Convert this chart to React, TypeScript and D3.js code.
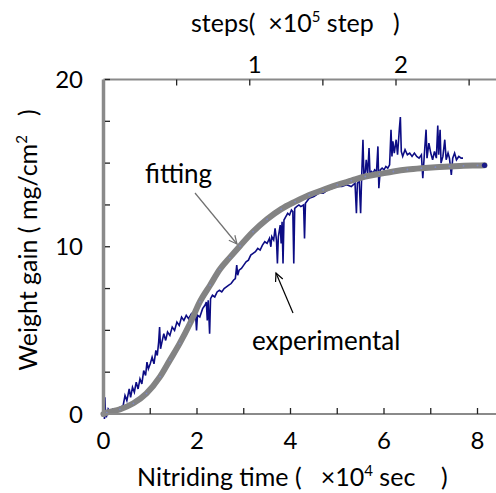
import React from 'react';
import * as d3 from 'd3';

// Axis ticks / labels
const timeTicks = [1, 2, 3, 4, 5, 6, 7, 8];
const timeLabels = [0, 2, 4, 6, 8];
const stepTicks = [0.5, 1, 1.5, 2, 2.5];
const stepLabels = [1, 2];
const weightTicks = [2.5, 5, 7.5, 10, 12.5, 15, 17.5, 20];
const weightLabels = [0, 10, 20];

// Experimental series: time (x10^4 sec) and weight gain (mg/cm2)
const expT = [
  0.00, 0.01, 0.02, 0.03, 0.04, 0.06, 0.10, 0.15, 0.20, 0.28, 0.35, 0.42, 0.46, 0.50, 0.55, 0.58,
  0.62, 0.66, 0.70, 0.74, 0.78, 0.82, 0.86, 0.90, 0.93, 0.96, 1.00, 1.04, 1.08, 1.12, 1.15, 1.18,
  1.20, 1.22, 1.25, 1.29, 1.33, 1.37, 1.42, 1.47, 1.52, 1.57, 1.62, 1.67, 1.72, 1.77, 1.82, 1.88,
  1.93, 1.97, 1.99, 2.01, 2.06, 2.12, 2.17, 2.20, 2.22, 2.24, 2.27, 2.29, 2.33, 2.38, 2.43, 2.48,
  2.53, 2.58, 2.63, 2.68, 2.73, 2.78, 2.82, 2.85, 2.87, 2.90, 2.95, 3.00, 3.05, 3.10, 3.15, 3.20,
  3.25, 3.30, 3.35, 3.40, 3.45, 3.50, 3.55, 3.58, 3.60, 3.64, 3.67, 3.70, 3.72, 3.74, 3.78, 3.80,
  3.82, 3.84, 3.86, 3.90, 3.94, 3.98, 4.02, 4.05, 4.07, 4.09, 4.13, 4.18, 4.22, 4.28, 4.30, 4.32,
  4.40, 4.50, 4.60, 4.70, 4.80, 4.90, 5.00, 5.10, 5.20, 5.30, 5.38, 5.41, 5.43, 5.47, 5.50, 5.52,
  5.55, 5.57, 5.60, 5.62, 5.65, 5.68, 5.70, 5.73, 5.77, 5.80, 5.84, 5.87, 5.89, 5.92, 5.96, 6.00,
  6.04, 6.08, 6.12, 6.15, 6.17, 6.19, 6.22, 6.26, 6.29, 6.33, 6.35, 6.37, 6.40, 6.45, 6.50, 6.55,
  6.60, 6.65, 6.70, 6.75, 6.80, 6.83, 6.86, 6.90, 6.92, 6.96, 7.00, 7.04, 7.08, 7.12, 7.15, 7.17,
  7.20, 7.22, 7.26, 7.30, 7.33, 7.37, 7.40, 7.44, 7.47, 7.51, 7.55, 7.60, 7.65, 7.69,
];
const expW = [
  0.0, 1.6, -0.3, 1.0, 0.2, -0.2, 0.3, 0.1, 0.3, 0.2, 0.4, 0.5, 1.1, 0.8, 1.5, 1.0,
  1.6, 1.3, 1.9, 1.5, 2.1, 1.8, 2.6, 2.3, 3.1, 2.7, 3.0, 3.4, 3.0, 3.8, 3.5, 4.3,
  5.2, 3.9, 4.3, 4.8, 4.4, 4.9, 4.7, 5.2, 5.0, 5.5, 5.3, 5.8, 5.6, 5.9, 5.7, 6.0,
  5.8, 5.9, 5.0, 5.9, 5.8, 6.3, 6.5, 6.7, 5.6, 6.8, 4.8, 6.9, 7.1, 7.0, 7.3, 7.4,
  7.3, 7.5, 7.6, 7.7, 7.8, 8.0, 8.1, 8.9, 8.3, 8.6, 8.7, 8.9, 9.1, 9.2, 9.5, 9.6,
  9.7, 9.9, 9.8, 10.1, 10.3, 10.2, 10.5, 10.0, 10.6, 10.4, 11.1, 10.4, 9.0, 10.6, 11.3, 10.2,
  11.5, 9.0, 11.6, 11.8, 12.0, 11.9, 12.2, 12.1, 9.0, 12.3, 12.4, 12.5, 12.4, 12.5, 10.5, 12.6,
  12.9, 13.0, 13.2, 13.2, 13.4, 13.5, 13.6, 13.6, 13.7, 13.6, 13.8, 12.0, 13.8, 13.9, 12.0, 14.0,
  16.4, 14.2, 14.5, 15.2, 14.3, 15.9, 14.4, 14.5, 14.4, 14.6, 14.5, 16.0, 13.5, 14.6, 14.7, 14.6,
  14.8, 14.7, 14.9, 17.0, 15.4, 16.3, 15.6, 16.4, 15.5, 17.1, 17.75, 15.7, 15.4, 15.8, 15.5, 15.6,
  15.4, 15.6, 15.4, 15.3, 15.5, 14.1, 15.4, 17.0, 15.3, 16.2, 15.6, 15.2, 15.7, 15.3, 17.25, 15.5,
  17.0, 15.0, 15.4, 16.4, 15.2, 15.6, 15.3, 14.3, 15.3, 15.6, 15.2, 15.4, 15.3, 15.3,
];

// Fitting curve
const fitT = [
  0, 0.07, 0.35, 0.64, 0.92, 1.21, 1.42, 1.63, 1.85, 2.06, 2.28, 2.49, 2.70, 2.92, 3.20, 3.50,
  3.80, 4.10, 4.40, 4.70, 5.00, 5.30, 5.60, 5.90, 6.20, 6.50, 6.80, 7.10, 7.40, 7.70, 8.00, 8.15,
];
const fitW = [
  0, 0.08, 0.28, 0.64, 1.23, 2.23, 3.22, 4.22, 5.41, 6.70, 7.70, 8.65, 9.35, 10.05, 10.9, 11.65,
  12.25, 12.7, 13.1, 13.4, 13.7, 13.95, 14.2, 14.35, 14.5, 14.62, 14.7, 14.76, 14.8, 14.84, 14.86, 14.87,
];

const FONT = "Lato, 'Open Sans', sans-serif";

function arrowHead(x1: number, y1: number, x2: number, y2: number, size: number) {
  const a = Math.atan2(y2 - y1, x2 - x1);
  const s = 0.45;
  const p1 = [x2 - size * Math.cos(a - s), y2 - size * Math.sin(a - s)];
  const p2 = [x2 - size * Math.cos(a + s), y2 - size * Math.sin(a + s)];
  return `M${p1[0]},${p1[1]}L${x2},${y2}L${p2[0]},${p2[1]}`;
}

export default function App() {
  const W = 496;
  const H = 493;
  const x = d3.scaleLinear().domain([0, 8]).range([103.5, 477.5]);
  const xs = d3.scaleLinear().domain([0, 2]).range([103.5, 396]);
  const y = d3.scaleLinear().domain([0, 20]).range([414, 79.5]);

  const expData = expT.map((t, i) => [t, expW[i]] as [number, number]);
  const fitData = fitT.map((t, i) => [t, fitW[i]] as [number, number]);

  const expLine = d3.line<[number, number]>().x(d => x(d[0])).y(d => y(d[1]));
  const fitLine = d3
    .line<[number, number]>()
    .x(d => x(d[0]))
    .y(d => y(d[1]))
    .curve(d3.curveMonotoneX);

  const last = fitData[fitData.length - 1];

  const fa = { x1: 195, y1: 193, x2: 237, y2: 244 };
  const ea = { x1: 293, y1: 313, x2: 276, y2: 273 };

  return (
    <svg
      width={W}
      height={H}
      style={{ position: 'absolute', left: 0, top: 0, background: '#fff' }}
      fontFamily={FONT}
    >
      <rect x={0} y={0} width={W} height={H} fill="#fff" />

      {/* data */}
      <path d={expLine(expData) || ''} fill="none" stroke="#0c0c84" strokeWidth={1.6} strokeLinejoin="miter" />
      <path d={fitLine(fitData) || ''} fill="none" stroke="#838383" strokeWidth={6} strokeLinecap="round" />
      {fitData.map((d, i) => (
        <circle key={i} cx={x(d[0])} cy={y(d[1])} r={0.9} fill="#7d88c4" />
      ))}
      <circle cx={x(last[0])} cy={y(last[1])} r={2.6} fill="#1a1a8a" />

      {/* axes */}
      <line x1={103.5} x2={103.5} y1={y(20)} y2={417} stroke="#8a8a8a" strokeWidth={3.5} />
      <line x1={103.5} x2={W} y1={y(20)} y2={y(20)} stroke="#8a8a8a" strokeWidth={2} />
      <line x1={102} x2={W} y1={y(0)} y2={y(0)} stroke="#8a8a8a" strokeWidth={2} />

      {timeTicks.map(t => (
        <line key={'bt' + t} x1={x(t)} x2={x(t)} y1={y(0) - 6} y2={y(0)} stroke="#222" strokeWidth={1.3} />
      ))}
      {stepTicks.map(t => (
        <line key={'tt' + t} x1={xs(t)} x2={xs(t)} y1={y(20)} y2={y(20) + 6} stroke="#222" strokeWidth={1.3} />
      ))}
      {weightTicks.map(v => (
        <line key={'lt' + v} x1={105} x2={110} y1={y(v)} y2={y(v)} stroke="#222" strokeWidth={1.3} />
      ))}

      {/* tick labels */}
      {timeLabels.map(t => (
        <text key={'bl' + t} x={x(t)} y={449} textAnchor="middle" fontSize={24} fill="#000">
          {t}
        </text>
      ))}
      {stepLabels.map(t => (
        <text key={'tl' + t} x={xs(t) + 5} y={73} textAnchor="middle" fontSize={24} fill="#000">
          {t}
        </text>
      ))}
      {weightLabels.map(v => (
        <text key={'ll' + v} x={83} y={y(v) + 8.5} textAnchor="end" fontSize={24} fill="#000">
          {v}
        </text>
      ))}

      {/* titles */}
      <text x={191} y={32} fontSize={25} fill="#000" style={{ whiteSpace: 'pre' }}>
        {'steps(  ×10'}
        <tspan fontSize={15} dy={-10}>5</tspan>
        <tspan dy={10}>{' step   )'}</tspan>
      </text>
      <text x={137} y={486} fontSize={25} fill="#000" style={{ whiteSpace: 'pre' }}>
        {'Nitriding time (   ×10'}
        <tspan fontSize={15} dy={-10}>4</tspan>
        <tspan dy={10}>{' sec    )'}</tspan>
      </text>
      <text
        transform="translate(37,240) rotate(-90)"
        textAnchor="middle"
        fontSize={25}
        fill="#000"
        style={{ whiteSpace: 'pre' }}
      >
        {'Weight gain ( mg/cm'}
        <tspan fontSize={15} dy={-10}>2</tspan>
        <tspan dy={10}>{'   )'}</tspan>
      </text>

      {/* annotations */}
      <text x={145} y={183} fontSize={26} fill="#000">fitting</text>
      <line x1={fa.x1} y1={fa.y1} x2={fa.x2} y2={fa.y2} stroke="#707070" strokeWidth={1.2} />
      <path d={arrowHead(fa.x1, fa.y1, fa.x2, fa.y2, 9)} fill="none" stroke="#707070" strokeWidth={1.2} />
      <text x={252} y={350} fontSize={26} fill="#000">experimental</text>
      <line x1={ea.x1} y1={ea.y1} x2={ea.x2} y2={ea.y2} stroke="#000" strokeWidth={1.2} />
      <path d={arrowHead(ea.x1, ea.y1, ea.x2, ea.y2, 9)} fill="none" stroke="#000" strokeWidth={1.2} />
    </svg>
  );
}
